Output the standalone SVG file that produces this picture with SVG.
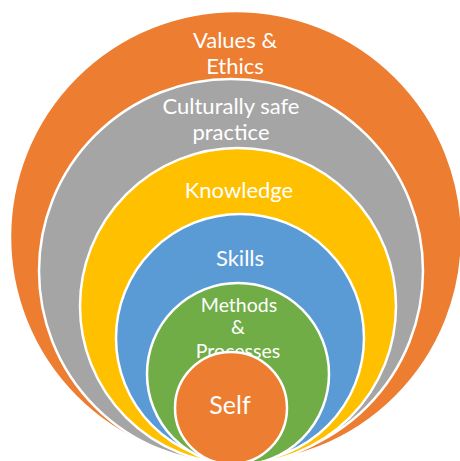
<svg xmlns="http://www.w3.org/2000/svg" width="460" height="461" viewBox="0 0 460 461">
<style>
circle{stroke:#fff;stroke-width:2.5}
text{font-family:Lato,"Open Sans","Liberation Sans",sans-serif;fill:#fff;text-anchor:middle}
.t{font-size:22px}
.s{font-size:19.5px}
.b{font-size:25px}
</style>
<rect width="460" height="461" fill="#fff"/>
<g id="values">
<circle cx="236" cy="237" r="226" fill="#ED7D31" stroke="none"/>
<text class="t" x="235" y="48">Values &amp;</text>
<text class="t" x="235" y="74">Ethics</text>
</g>
<g id="culture">
<circle cx="231" cy="271" r="192" fill="#A5A5A5"/>
<text class="t" x="231" y="114">Culturally safe</text>
<text class="t" x="231" y="140">practice</text>
</g>
<g id="knowledge">
<circle cx="238" cy="306" r="158" fill="#FFC000"/>
<text class="t" x="239" y="198">Knowledge</text>
</g>
<g id="skills">
<circle cx="240" cy="338" r="124" fill="#5B9BD5"/>
<text class="t" x="240" y="266">Skills</text>
</g>
<g id="methods">
<circle cx="238" cy="374" r="91" fill="#70AD47"/>
<text class="s" x="239" y="312">Methods</text>
<text class="s" x="238" y="334">&amp;</text>
<text class="s" x="238" y="358">Processes</text>
</g>
<g id="self">
<circle cx="231" cy="408" r="56" fill="#ED7D31"/>
<text class="b" x="230" y="414">Self</text>
</g>
<g id="connectors"/>
</svg>
